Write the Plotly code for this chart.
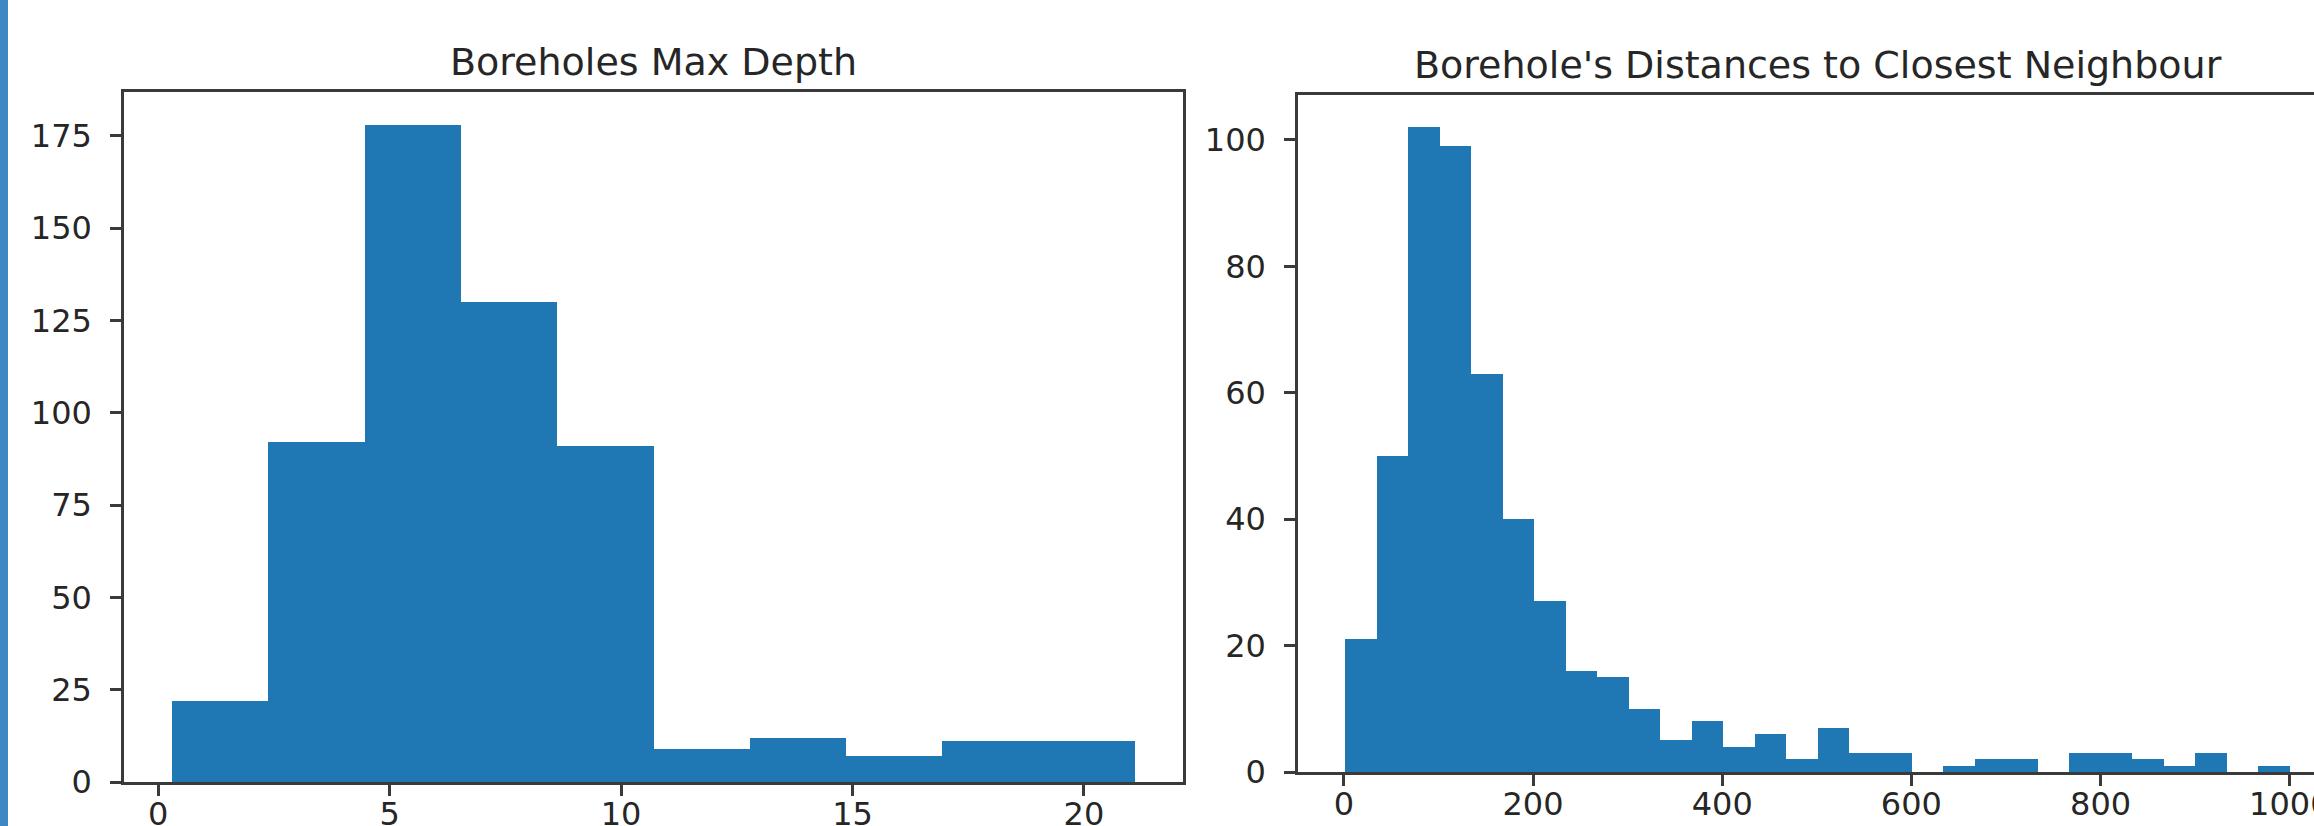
import numpy as np
import plotly.graph_objects as go

# ---------------- data ----------------
depth_title = "Boreholes Max Depth"
depth_counts = [22, 92, 178, 130, 91, 9, 12, 7, 11, 11]
depth_min, depth_max = 0.3, 21.1
depth_xticks = [0, 5, 10, 15, 20]
depth_yticks = [0, 25, 50, 75, 100, 125, 150, 175]

dist_title = "Borehole's Distances to Closest Neighbour"
dist_counts = [21, 50, 102, 99, 63, 40, 27, 16, 15, 10,
               5, 8, 4, 6, 2, 7, 3, 3, 0, 1,
               2, 2, 0, 3, 3, 2, 1, 3, 0, 1]
dist_min, dist_max = 1.5, 1000.0
dist_xticks = [0, 200, 400, 600, 800, 1000]
dist_yticks = [0, 20, 40, 60, 80, 100]

# ---------------- layout constants ----------------
W, H = 2314, 826
BAR = "#1f77b4"
LINE = "#3a3a3a"
TXT = "#262626"
FONT = "DejaVu Sans"


def px_x(p):
    return p / W


def px_y(p):
    return 1 - p / H


def hist_bars(counts, lo, hi):
    edges = np.linspace(lo, hi, len(counts) + 1)
    centers = (edges[:-1] + edges[1:]) / 2
    widths = np.diff(edges)
    return centers, widths


fig = go.Figure()

c1, w1 = hist_bars(depth_counts, depth_min, depth_max)
fig.add_trace(go.Bar(x=c1, y=depth_counts, width=w1, marker=dict(color=BAR, line=dict(width=0)),
                     xaxis="x", yaxis="y", showlegend=False, hoverinfo="skip"))
c2, w2 = hist_bars(dist_counts, dist_min, dist_max)
fig.add_trace(go.Bar(x=c2, y=dist_counts, width=w2, marker=dict(color=BAR, line=dict(width=0)),
                     xaxis="x2", yaxis="y2", showlegend=False, hoverinfo="skip"))

# axis ranges (matplotlib-style 5% margins)
span1 = depth_max - depth_min
x1_range = [depth_min - 0.05 * span1, depth_max + 0.05 * span1]
y1_range = [0, max(depth_counts) * 1.05]

span2 = dist_max - dist_min
x2_lo = dist_min - 0.05 * span2
x2_hi_full = dist_max + 0.05 * span2
# right axes extends past the page edge; clip the range at the page edge
ax2_left, ax2_right_full = 1298, 2337
x2_hi = x2_lo + (x2_hi_full - x2_lo) * (W - ax2_left) / (ax2_right_full - ax2_left)
y2_range = [0, max(dist_counts) * 1.05]

tickfont = dict(family=FONT, size=32, color=TXT)
common = dict(showgrid=False, zeroline=False, showline=True, linecolor=LINE, linewidth=2.5,
              ticks="outside", ticklen=11, tickwidth=2.5, tickcolor=LINE, tickfont=tickfont,
              ticklabeloverflow="allow", automargin=False)
xcommon = dict(common, ticklabelstandoff=-9)
ycommon = dict(common, ticklabelstandoff=12)

fig.update_layout(
    width=W, height=H,
    margin=dict(l=0, r=0, t=0, b=0, autoexpand=False),
    paper_bgcolor="white", plot_bgcolor="white",
    bargap=0,
    xaxis=dict(domain=[px_x(124), px_x(1183)], range=x1_range, tickvals=depth_xticks,
               anchor="y", mirror=True, **xcommon),
    yaxis=dict(domain=[px_y(782), px_y(92)], range=y1_range, tickvals=depth_yticks,
               anchor="x", mirror=True, **ycommon),
    xaxis2=dict(domain=[px_x(ax2_left), 1.0], range=[x2_lo, x2_hi], tickvals=dist_xticks,
                anchor="y2", mirror=True, **xcommon),
    yaxis2=dict(domain=[px_y(772), px_y(95)], range=y2_range, tickvals=dist_yticks,
                anchor="x2", mirror=False, **ycommon),
    annotations=[
        dict(text=depth_title, x=px_x((124 + 1183) / 2), y=px_y(62), xref="paper", yref="paper",
             xanchor="center", yanchor="middle", showarrow=False,
             font=dict(family=FONT, size=38, color=TXT)),
        dict(text=dist_title, x=px_x((ax2_left + ax2_right_full) / 2), y=px_y(65), xref="paper",
             yref="paper", xanchor="center", yanchor="middle", showarrow=False,
             font=dict(family=FONT, size=38, color=TXT)),
    ],
    shapes=[
        dict(type="rect", xref="paper", yref="paper", x0=0, x1=px_x(8), y0=0, y1=1,
             fillcolor="#3E87C4", line=dict(width=0), layer="above"),
    ],
)

post = (
    "document.documentElement.style.margin='0';"
    "document.documentElement.style.overflow='hidden';"
    "document.body.style.margin='0';"
    "document.body.style.overflow='hidden';"
)

fig.write_html("out.html", config={"displayModeBar": False}, post_script=post)
